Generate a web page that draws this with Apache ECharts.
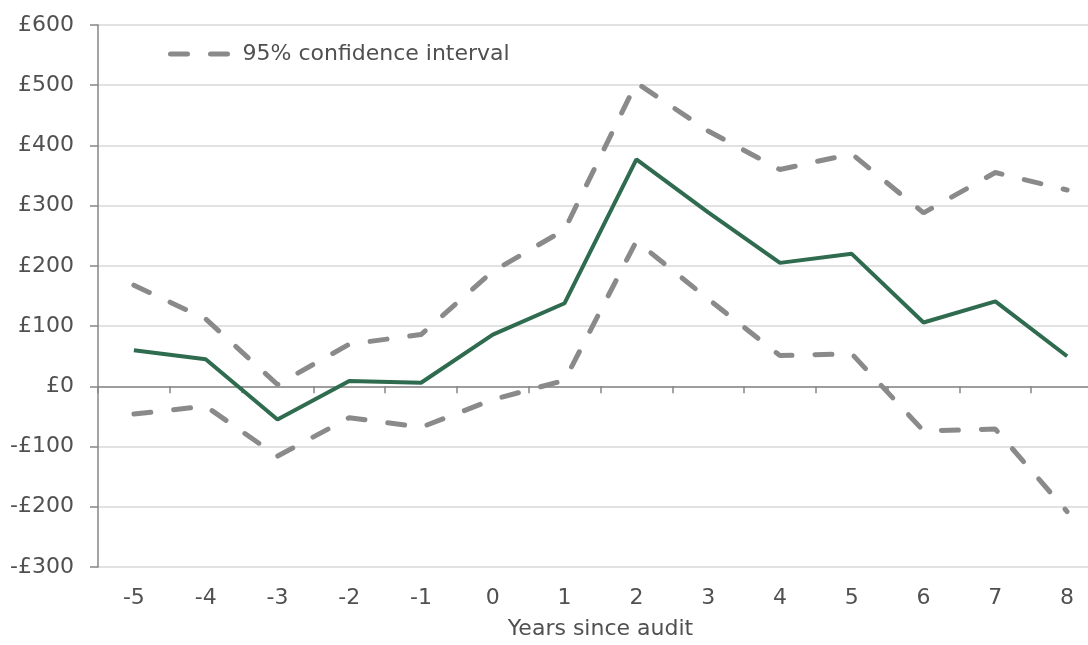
<!DOCTYPE html>
<html>
<head>
<meta charset="utf-8">
<script src="https://cdn.jsdelivr.net/npm/echarts@6/dist/echarts.min.js"></script>
<style>
html,body{margin:0;padding:0;background:#fff;overflow:hidden;}
#chart{width:1103px;height:645px;}
</style>
</head>
<body>
<div id="chart"></div>
<script>
const categories = ['-5','-4','-3','-2','-1','0','1','2','3','4','5','6','7','8'];
const estimate = [60, 45, -55, 9, 6, 86, 138, 377, 289, 205, 220, 106, 141, 50];
const upperCI = [168, 112, 3, 70, 86, 191, 260, 504, 424, 360, 386, 288, 355, 326];
const lowerCI = [-46, -33, -116, -52, -68, -22, 10, 241, 145, 51, 54, -74, -71, -208];
const ciName = '95% confidence interval';
const xAxisTitle = 'Years since audit';

const FONT = 'DejaVu Sans';
const TXT = '#505050';
const GREY = '#8a8a8a';
const GREEN = '#2f6b4f';

const chart = echarts.init(document.getElementById('chart'), null, {renderer: 'canvas'});
const dashed = {color: GREY, width: 5, type: [17, 23], cap: 'round'};
chart.setOption({
  animation: false,
  backgroundColor: '#ffffff',
  grid: {left: 98, top: 25, right: 0, bottom: 77, containLabel: false},
  legend: {
    data: [ciName],
    left: 163, top: 38,
    itemWidth: 62, itemHeight: 20,
    itemStyle: {opacity: 0},
    lineStyle: {color: GREY, width: 5, type: [17, 23], cap: 'round'},
    textStyle: {fontFamily: FONT, fontSize: 22, color: TXT, padding: [0, 0, 0, 5]},
    selectedMode: false
  },
  xAxis: [
    {
      type: 'category', data: categories, position: 'bottom',
      axisLine: {onZero: true, lineStyle: {color: '#868686', width: 1.5}},
      axisTick: {show: true, length: 7, lineStyle: {color: '#868686', width: 1.5}},
      axisLabel: {show: false},
      splitLine: {show: false}
    },
    {
      type: 'category', data: categories, position: 'bottom',
      axisLine: {show: false, onZero: false},
      axisTick: {show: false},
      axisLabel: {fontFamily: FONT, fontSize: 22, color: TXT, margin: 20},
      name: xAxisTitle, nameLocation: 'middle', nameGap: 51,
      nameTextStyle: {fontFamily: FONT, fontSize: 22, color: TXT},
      splitLine: {show: false}
    }
  ],
  yAxis: {
    type: 'value', min: -300, max: 600, interval: 100,
    axisLine: {show: true, lineStyle: {color: '#868686', width: 1.5}},
    axisTick: {show: true, length: 8, lineStyle: {color: '#868686', width: 1.5}},
    axisLabel: {
      fontFamily: FONT, fontSize: 22, color: TXT, margin: 24,
      formatter: v => (v < 0 ? '-£' + Math.abs(v) : '£' + v)
    },
    splitLine: {show: true, lineStyle: {color: '#d9d9d9', width: 1.5}}
  },
  series: [
    {
      name: ciName, type: 'line', data: upperCI, xAxisIndex: 0,
      symbol: 'none', lineStyle: dashed, itemStyle: {color: GREY}, z: 2
    },
    {
      name: ciName, type: 'line', data: lowerCI, xAxisIndex: 0,
      symbol: 'none', lineStyle: dashed, itemStyle: {color: GREY}, z: 2
    },
    {
      name: 'Estimate', type: 'line', data: estimate, xAxisIndex: 0,
      symbol: 'none', lineStyle: {color: GREEN, width: 4}, itemStyle: {color: GREEN}, z: 3
    }
  ]
});
</script>
</body>
</html>
